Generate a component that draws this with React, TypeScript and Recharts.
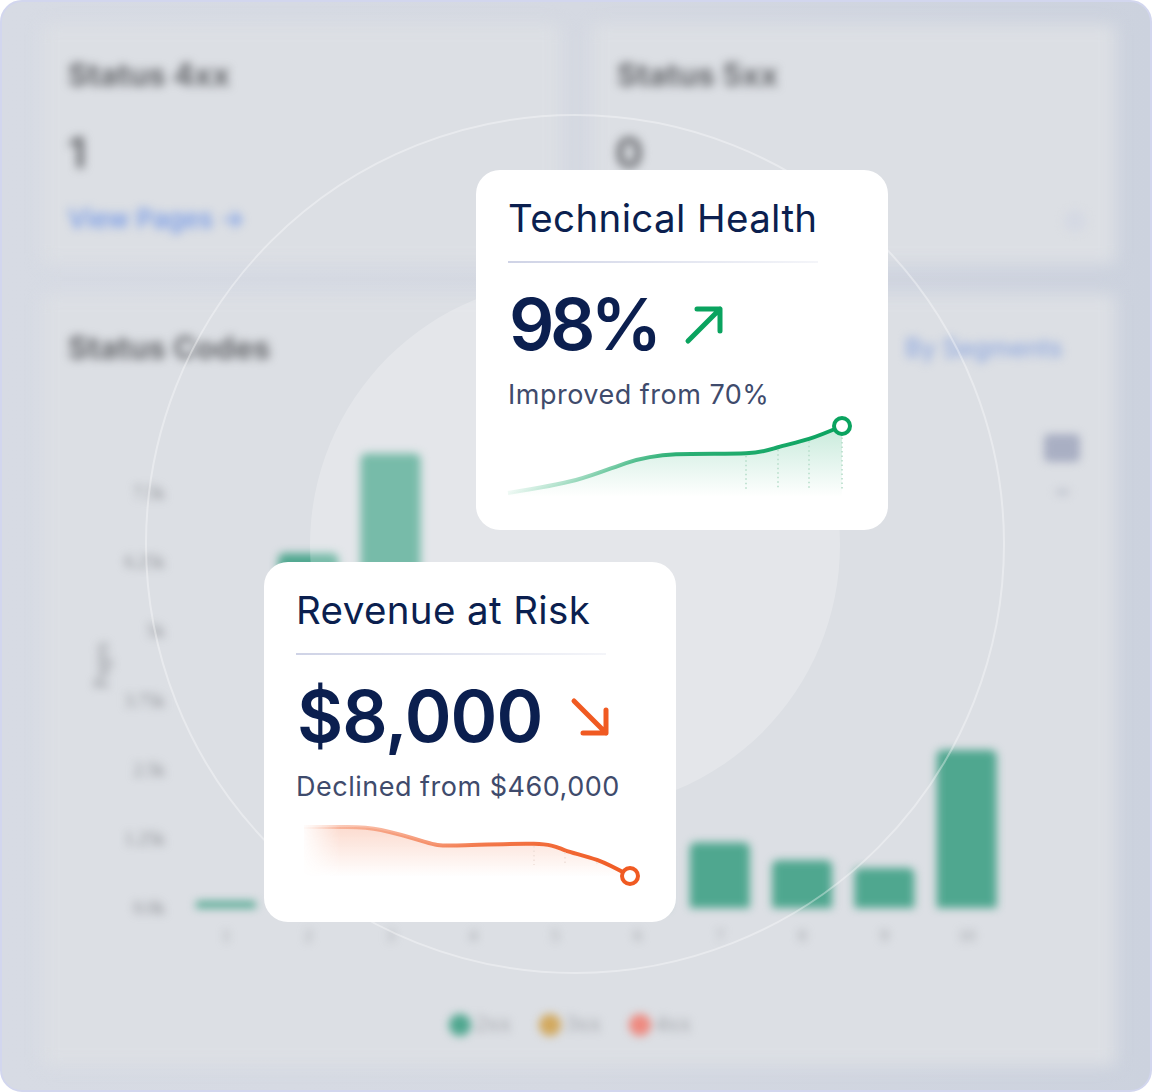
import React from 'react';
import { BarChart, Bar, XAxis, YAxis, Legend, AreaChart, Area, ReferenceLine, ReferenceDot } from 'recharts';

// background status chart (thousands of pages)
const codes = ['1', '2', '3', '4', '5', '6', '7', '8', '9', '10'];
const status2xx = [0.12, 6.4, 8.2, 1.5, 1.3, 1.0, 1.18, 0.86, 0.72, 2.85];
const status3xx = [0, 0, 0, 0, 0, 0, 0, 0, 0, 0];
const status4xx = [0, 0, 0, 0, 0, 0, 0, 0, 0, 0];
const pageTicks = [0, 1.25, 2.5, 3.75, 5, 6.25, 7.5];
const statusRows = codes.map((code, i) => ({ code, s2: status2xx[i], s3: status3xx[i], s4: status4xx[i] }));

// technical health sparkline (percent)
const healthX = [0, 68, 118, 168, 238, 270, 301, 334];
const healthY = [70, 75.4, 82.5, 86.2, 86.6, 89.1, 92.6, 98];
const healthDrops = [238, 270, 301, 334];
const healthRows = healthX.map((x, i) => ({ x, y: healthY[i] }));

// revenue sparkline ($ thousands)
const riskX = [0, 43, 77, 120, 153, 230, 261, 293, 326];
const riskY = [460, 460, 432, 325, 290, 305, 245, 156, 8];
const riskDrops = [230, 261, 293];
const riskRows = riskX.map((x, i) => ({ x, y: riskY[i] }));

const ink = '#0b1f4f';
const cardFont = 'Inter, sans-serif';

function Box({ l, t, w, h, bg, r = 0 }: { l: number; t: number; w: number; h: number; bg: string; r?: number }) {
  return <div style={{ position: 'absolute', left: l, top: t, width: w, height: h, background: bg, borderRadius: r }} />;
}

function Label({ l, t, size, color, weight = 700, children }: any) {
  return (
    <div style={{ position: 'absolute', left: l, top: t, fontSize: size, lineHeight: 1, color, fontWeight: weight, whiteSpace: 'nowrap', fontFamily: 'Inter, sans-serif' }}>
      {children}
    </div>
  );
}

function Backdrop() {
  return (
    <>
      <div style={{ position: 'absolute', inset: 0, filter: 'blur(8px)' }}>
        <Box l={42} t={24} w={518} h={240} bg="#dcdfe4" r={6} />
        <Box l={592} t={24} w={524} h={240} bg="#dcdfe4" r={6} />
        <Box l={42} t={294} w={1074} h={772} bg="#dcdfe4" r={6} />
      </div>
      <div style={{ position: 'absolute', inset: 0, filter: 'blur(5px)' }}>
        <Label l={68} t={59} size={31} color="#66686c">Status 4xx</Label>
        <Label l={617} t={59} size={31} color="#66686c">Status 5xx</Label>
        <Label l={68} t={132} size={42} color="#6a6c70">1</Label>
        <Label l={615} t={132} size={42} color="#6a6c70">0</Label>
        <Label l={68} t={206} size={26} color="#6f95e6" weight={500}>View Pages →</Label>
        <Label l={68} t={332} size={31} color="#66686c">Status Codes</Label>
        <Label l={905} t={336} size={25} color="#8fa8de" weight={500}>By Segments</Label>
      </div>
      <div style={{ position: 'absolute', inset: 0, filter: 'blur(4px)' }}>
        <Box l={1044} t={434} w={36} h={28} bg="#a9afc3" r={5} />
        <Box l={1056} t={489} w={13} h={6} bg="#c2c6d0" r={2} />
        <Box l={1064} t={210} w={22} h={22} bg="#d5d9e3" r={11} />

        <div style={{ position: 'absolute', left: 90, top: 400 }}>
          <BarChart width={930} height={640} data={statusRows} margin={{ top: 23, right: 12, bottom: 0, left: 0 }} barCategoryGap={11}>
            <XAxis dataKey="code" height={105} axisLine={false} tickLine={false} interval={0} tick={{ fill: '#9ea1a6', fontSize: 17 }} tickMargin={15} />
            <YAxis
              width={95}
              domain={[0, 8.75]}
              ticks={pageTicks}
              tickFormatter={(v: number) => (v === 0 ? '0.0k' : v + 'k')}
              axisLine={false}
              tickLine={false}
              tickMargin={14}
              tick={{ fill: '#8a8d92', fontSize: 18 }}
              label={{ value: 'Pages', angle: -90, position: 'insideLeft', offset: 11, style: { fill: '#8e9196', fontSize: 20, textAnchor: 'middle' } }}
            />
            <Legend
              iconType="circle"
              iconSize={22}
              wrapperStyle={{ position: 'absolute', top: 610, left: 309, width: 370, bottom: 'auto', fontSize: 24 }}
              formatter={(v: string) => <span style={{ color: '#a0a3a8', paddingRight: 18 }}>{v}</span>}
            />
            <Bar dataKey="s2" name="2xx" stackId="a" fill="#4fa78f" radius={[6, 6, 0, 0]} isAnimationActive={false} />
            <Bar dataKey="s3" name="3xx" stackId="a" fill="#d2a95f" isAnimationActive={false} />
            <Bar dataKey="s4" name="4xx" stackId="a" fill="#ee8a80" isAnimationActive={false} />
          </BarChart>
        </div>
      </div>
    </>
  );
}

function Card({ l, t, title, value, note, valueSpacing, children }: any) {
  return (
    <div style={{ position: 'absolute', left: l, top: t, width: 412, height: 360, background: '#fff', borderRadius: 24, fontFamily: cardFont }}>
      <div style={{ position: 'absolute', left: 32, top: 25, fontSize: 38.5, lineHeight: '46px', color: ink, whiteSpace: 'nowrap', letterSpacing: 0.37 }}>{title}</div>
      <div style={{ position: 'absolute', left: 32, top: 91, width: 310, height: 2, background: 'linear-gradient(to right, #cfd3e6, #f4f5f9)' }} />
      <div style={{ position: 'absolute', left: 33, top: 112, fontSize: 71, lineHeight: '84px', fontWeight: 600, color: ink, whiteSpace: 'nowrap', letterSpacing: valueSpacing }}>{value}</div>
      <div style={{ position: 'absolute', left: 32, top: 208, fontSize: 27, lineHeight: '34px', color: '#3f4b6c', whiteSpace: 'nowrap', letterSpacing: 0.5 }}>{note}</div>
      {children}
    </div>
  );
}

function Arrow({ l, t, d, color }: { l: number; t: number; d: string; color: string }) {
  return (
    <svg style={{ position: 'absolute', left: l, top: t }} width={50} height={50}>
      <path d={d} fill="none" stroke={color} strokeWidth={5} strokeLinecap="round" strokeLinejoin="round" />
    </svg>
  );
}

function HealthSpark() {
  return (
    <div style={{ position: 'absolute', left: 24, top: 240 }}>
      <AreaChart width={360} height={90} data={healthRows} margin={{ top: 16, right: 18, bottom: 3, left: 8 }}>
        <defs>
          <linearGradient id="healthFill" x1="0" y1="0" x2="0" y2="1">
            <stop offset="0" stopColor="#0aa35f" stopOpacity={0.38} />
            <stop offset="1" stopColor="#0aa35f" stopOpacity={0} />
          </linearGradient>
          <linearGradient id="healthStroke" x1="0" y1="0" x2="1" y2="0">
            <stop offset="0" stopColor="#0aa35f" stopOpacity={0.06} />
            <stop offset="0.5" stopColor="#0aa35f" stopOpacity={0.85} />
            <stop offset="1" stopColor="#0aa35f" />
          </linearGradient>
        </defs>
        <XAxis type="number" dataKey="x" domain={[0, 334]} hide />
        <YAxis domain={[68.3, 98]} hide />
        <Area type="natural" dataKey="y" stroke="url(#healthStroke)" strokeWidth={4} fill="url(#healthFill)" isAnimationActive={false} />
        {healthDrops.map((x) => (
          <ReferenceLine
            key={x}
            segment={[{ x, y: healthY[healthX.indexOf(x)] - 1 }, { x, y: 71.5 }]}
            stroke="#b4dcc7"
            strokeWidth={1.5}
            strokeDasharray="1.5 3"
          />
        ))}
        <ReferenceDot x={334} y={98} r={8} fill="#fff" stroke="#0aa35f" strokeWidth={4} ifOverflow="visible" />
      </AreaChart>
    </div>
  );
}

function RiskSpark() {
  return (
    <div style={{ position: 'absolute', left: 26, top: 243, WebkitMaskImage: 'linear-gradient(to right, transparent 10px, #000 50px)', maskImage: 'linear-gradient(to right, transparent 10px, #000 50px)' }}>
      <AreaChart width={370} height={90} data={riskRows} margin={{ top: 22, right: 30, bottom: 10, left: 14 }}>
        <defs>
          <linearGradient id="riskFill" x1="0" y1="0" x2="0" y2="1">
            <stop offset="0" stopColor="#f05a22" stopOpacity={0.36} />
            <stop offset="1" stopColor="#f05a22" stopOpacity={0} />
          </linearGradient>
          <linearGradient id="riskStroke" x1="0" y1="0" x2="1" y2="0">
            <stop offset="0" stopColor="#f05a22" stopOpacity={0.2} />
            <stop offset="0.55" stopColor="#f05a22" stopOpacity={0.8} />
            <stop offset="1" stopColor="#f05a22" />
          </linearGradient>
        </defs>
        <XAxis type="number" dataKey="x" domain={[0, 326]} hide />
        <YAxis domain={[-75, 460]} hide />
        <Area type="natural" dataKey="y" stroke="url(#riskStroke)" strokeWidth={4} fill="url(#riskFill)" isAnimationActive={false} />
        {riskDrops.map((x) => (
          <ReferenceLine
            key={x}
            segment={[{ x, y: riskY[riskX.indexOf(x)] - 20 }, { x, y: 110 }]}
            stroke="#efe0d9"
            strokeWidth={1.5}
            strokeDasharray="1.5 3"
          />
        ))}
        <ReferenceDot x={326} y={8} r={8} fill="#fff" stroke="#f05a22" strokeWidth={4} ifOverflow="visible" />
      </AreaChart>
    </div>
  );
}

export default function App() {
  return (
    <div style={{ position: 'absolute', left: 0, top: 0, width: 1152, height: 1092, background: '#fff', overflow: 'hidden' }}>
      <style>{'body{margin:0}'}</style>
      <div style={{ position: 'absolute', inset: 0, borderRadius: 22, overflow: 'hidden', boxSizing: 'border-box', border: '2px solid #d2d6ee', background: 'linear-gradient(to right, #d7dbe4, #d5d9e2 50%, #ccd2de)' }}>
        <div style={{ position: 'absolute', left: -2, top: -2, width: 1152, height: 1092 }}>
          <Backdrop />
          <div style={{ position: 'absolute', left: 310, top: 280, width: 530, height: 530, borderRadius: '50%', background: 'rgba(255,255,255,0.23)' }} />
          <div style={{ position: 'absolute', left: 145, top: 114, width: 860, height: 860, boxSizing: 'border-box', borderRadius: '50%', border: '2px solid rgba(255,255,255,0.36)' }} />
        </div>
      </div>

      <Card l={476} t={170} title="Technical Health" value="98%" note="Improved from 70%" valueSpacing={-4.5}>
        <Arrow l={206} t={133} d="M6 38 L38 6 M15 6 L38 6 L38 28" color="#0aa35f" />
        <HealthSpark />
      </Card>
      <Card l={264} t={562} title="Revenue at Risk" value="$8,000" note="Declined from $460,000" valueSpacing={-1}>
        <Arrow l={304} t={133} d="M6 6 L38 38 M15 38 L38 38 L38 15" color="#f05a22" />
        <RiskSpark />
      </Card>
    </div>
  );
}
